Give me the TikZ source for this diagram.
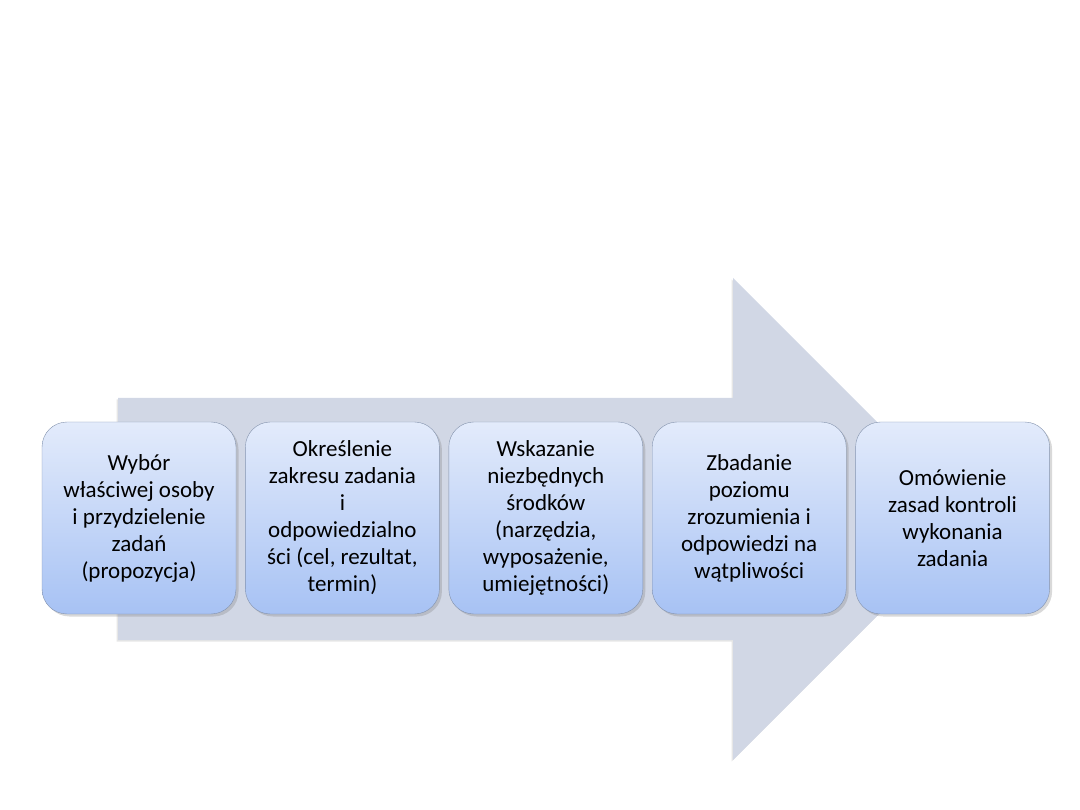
\documentclass[tikz,border=0pt]{standalone}
\usepackage{fontspec}
\setmainfont{Carlito}
\usetikzlibrary{positioning, shadows}
\definecolor{arrowFill}{HTML}{D1D7E5}
\definecolor{boxTop}{HTML}{E3EBFB}
\definecolor{boxBottom}{HTML}{A7C2F4}
\definecolor{boxLine}{HTML}{8392AC}

\begin{document}
\begin{tikzpicture}[
    x=1pt, y=-1pt,
    stepbox/.style={draw=boxLine, rounded corners=25pt,
                    top color=boxTop, bottom color=boxBottom,
                    minimum width=194pt, minimum height=192pt,
                    align=center, inner sep=2pt,
                    font=\fontsize{23}{27}\selectfont,
                    drop shadow={shadow xshift=2.5pt, shadow yshift=-2.5pt, opacity=0.3}},
  ]
    \useasboundingbox (0,0) rectangle (1080,810);
    % big arrow behind the steps
    \fill[arrowFill, drop shadow={shadow xshift=-1.5pt, shadow yshift=-1.5pt, opacity=0.2}]
      (118,398) -- (733,398) -- (733,278) -- (974,519) -- (733,760)
      -- (733,640) -- (118,640) -- cycle;
    \node[stepbox] (b1) at (139,518) {Wybór\\właściwej osoby\\i przydzielenie\\zadań\\(propozycja)};
    \node[stepbox, right=9pt of b1] (b2) {Określenie\\zakresu zadania\\i\\odpowiedzialno\\ści (cel, rezultat,\\termin)};
    \node[stepbox, right=9pt of b2] (b3) {Wskazanie\\niezbędnych\\środków\\(narzędzia,\\wyposażenie,\\umiejętności)};
    \node[stepbox, right=9pt of b3] (b4) {Zbadanie\\poziomu\\zrozumienia i\\odpowiedzi na\\wątpliwości};
    \node[stepbox, right=9pt of b4] (b5) {Omówienie\\zasad kontroli\\wykonania\\zadania};
\end{tikzpicture}
\end{document}
